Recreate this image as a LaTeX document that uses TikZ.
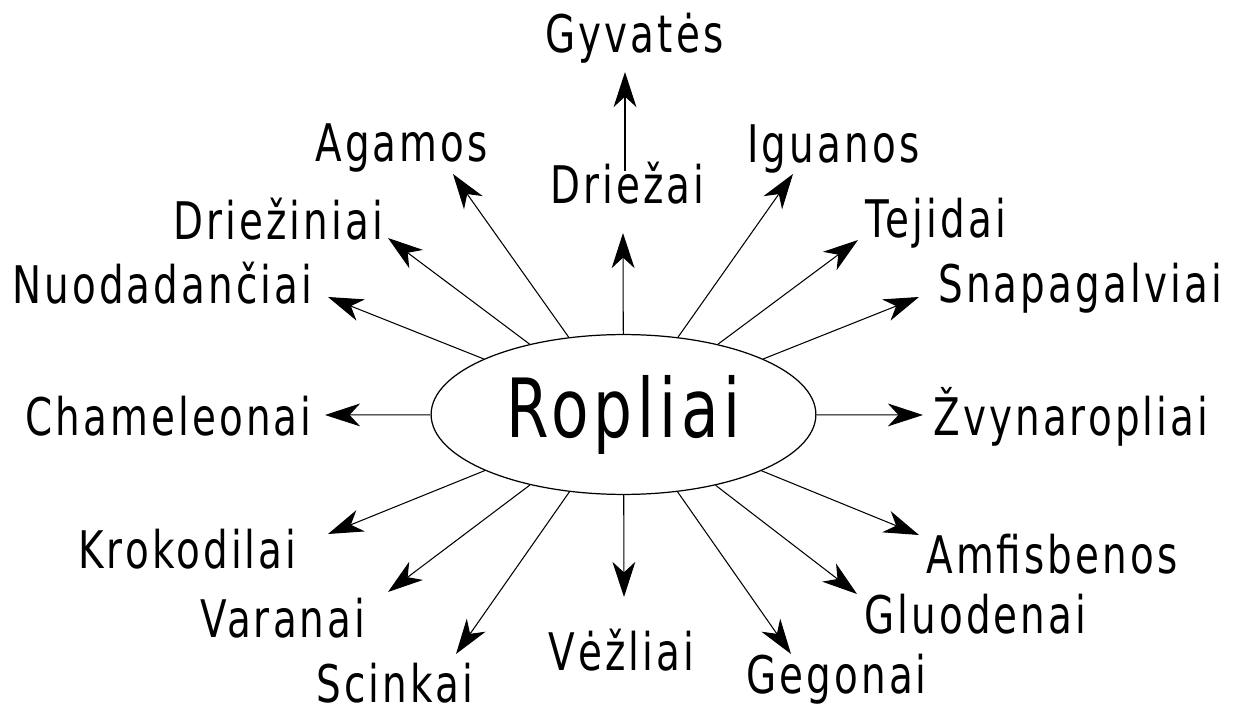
\documentclass[tikz,border=0pt]{standalone}
\usepackage{fontspec}
\setmainfont{DejaVu Sans}[FakeStretch=0.75,LetterSpace=6]
\usetikzlibrary{arrows.meta, shapes.geometric}

\tikzset{
  taxon/.style={anchor=base west, inner sep=0pt, font=\fontsize{29.5}{30}\selectfont},
  link/.style={-{Stealth[length=20pt, width=13pt, inset=6pt]}, line width=0.6pt},
}

\begin{document}
\begin{tikzpicture}[x=0.02cm, y=-0.02cm]
\useasboundingbox (0,0) rectangle (1249,713);

% Define nodes
\node[draw, shape=ellipse, line width=0.7pt, minimum width=219pt, minimum height=91pt,
  inner sep=0pt, font=\fontsize{46.5}{47}\selectfont] (ropliai) at (623.5,414.5) {Ropliai};

\path[every node/.style={taxon}]
(545,53) node (gyvates) {Gyvatės}
(550,204) node (driezai) {Driežai}
(315,162) node (agamos) {Agamos}
(747,163) node (iguanos) {Iguanos}
(173,239) node (drieziniai) {Driežiniai}
(865,237) node (tejidai) {Tejidai}
(12,303) node (nuodadanciai) {Nuodadančiai}
(938,302) node (snapagalviai) {Snapagalviai}
(25,435) node (chameleonai) {Chameleonai}
(933,435) node (zvynaropliai) {Žvynaropliai}
(78,568) node (krokodilai) {Krokodilai}
(926,573) node (amfisbenos) {Amfisbenos}
(200,637) node (varanai) {Varanai}
(864,633) node (gluodenai) {Gluodenai}
(548,670) node (vezliai) {Vėžliai}
(316,702) node (scinkai) {Scinkai}
(746,693) node (gegonai) {Gegonai}
;

% arrow tips next to the labels
\path
(625,72) coordinate (gyvates-tip)
(623,233) coordinate (driezai-tip)
(453,174) coordinate (agamos-tip)
(793,174) coordinate (iguanos-tip)
(388,238) coordinate (drieziniai-tip)
(858,240) coordinate (tejidai-tip)
(328,297) coordinate (nuodadanciai-tip)
(919,297) coordinate (snapagalviai-tip)
(325,415) coordinate (chameleonai-tip)
(923,415) coordinate (zvynaropliai-tip)
(328,534) coordinate (krokodilai-tip)
(919,535) coordinate (amfisbenos-tip)
(388,592) coordinate (varanai-tip)
(857,594) coordinate (gluodenai-tip)
(624,597) coordinate (vezliai-tip)
(456,654) coordinate (scinkai-tip)
(791,654) coordinate (gegonai-tip)
;

\foreach \n in {driezai, agamos, iguanos, drieziniai, tejidai, nuodadanciai,
  snapagalviai, chameleonai, zvynaropliai, krokodilai, amfisbenos, varanai,
  gluodenai, vezliai, scinkai, gegonai}
  \draw[link] (ropliai) -- (\n-tip);

\draw[link, shorten <=-5pt] (driezai.north -| gyvates-tip) -- (gyvates-tip);

\end{tikzpicture}
\end{document}
